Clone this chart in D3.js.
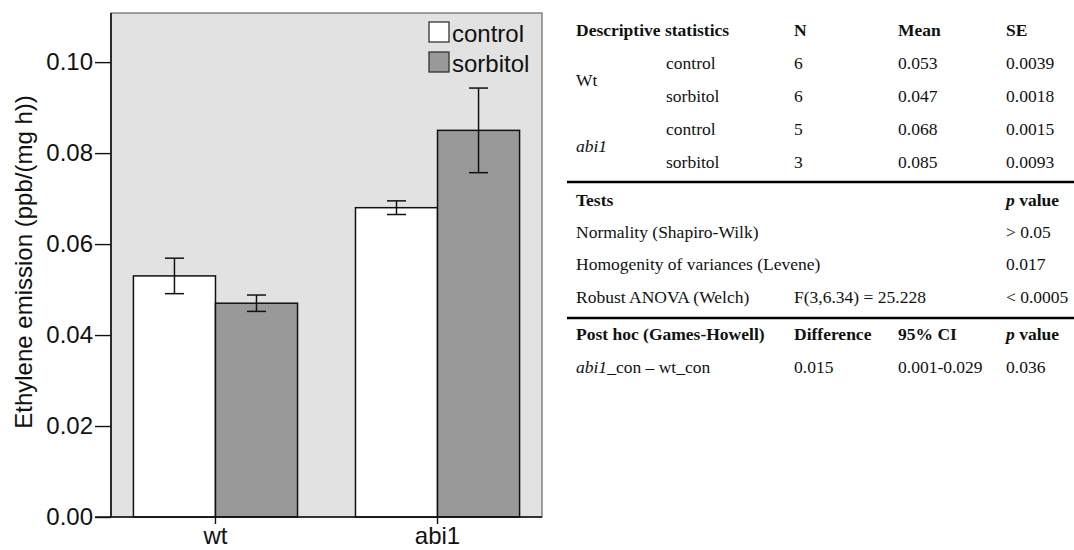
<!DOCTYPE html>
<html>
<head>
<meta charset="utf-8">
<script src="https://cdn.jsdelivr.net/npm/d3@7"></script>
<style>
  body { margin: 0; background: #fff; }
  svg { display: block; }
</style>
</head>
<body>
<div id="chart"></div>
<script>
// chart data
var genotypes = ["wt", "abi1"];
var treatments = ["control", "sorbitol"];
var meanValues = [[0.053, 0.047], [0.068, 0.085]];
var seValues = [[0.0039, 0.0018], [0.0015, 0.0093]];
var yTicks = [0, 0.02, 0.04, 0.06, 0.08, 0.10];

// table data
var descHeader = ["Descriptive statistics", "N", "Mean", "SE"];
var descGroups = ["Wt", "abi1"];
var descTreatments = ["control", "sorbitol", "control", "sorbitol"];
var descN = ["6", "6", "5", "3"];
var descMean = ["0.053", "0.047", "0.068", "0.085"];
var descSE = ["0.0039", "0.0018", "0.0015", "0.0093"];
var testNames = ["Normality (Shapiro-Wilk)", "Homogenity of variances (Levene)", "Robust ANOVA (Welch)"];
var testStats = ["", "", "F(3,6.34) = 25.228"];
var testP = ["> 0.05", "0.017", "< 0.0005"];
var postHeader = ["Post hoc (Games-Howell)", "Difference", "95% CI"];
var postRow = ["0.015", "0.001-0.029", "0.036"];

var W = 1074, H = 550;
var svg = d3.select("#chart").append("svg").attr("width", W).attr("height", H);

var plot = { left: 111, right: 542, top: 13, bottom: 517 };
var sans = "'Liberation Sans', Arial, Helvetica, sans-serif";
var serif = "'Liberation Serif', 'Times New Roman', serif";

var y = d3.scaleLinear().domain([0, 0.1108]).range([plot.bottom, plot.top]);
var x0 = d3.scaleBand().domain(genotypes).range([plot.left, plot.right])
  .paddingInner(0.261).paddingOuter(0.101);
var x1 = d3.scaleBand().domain(treatments).range([0, x0.bandwidth()]).padding(0);
var fill = d3.scaleOrdinal().domain(treatments).range(["#ffffff", "#999999"]);

// plot background
svg.append("rect")
  .attr("x", plot.left).attr("y", plot.top)
  .attr("width", plot.right - plot.left).attr("height", plot.bottom - plot.top)
  .style("fill", "#e2e2e2")
  .style("stroke", "#666")
  .style("stroke-width", 1.2);

// bars
var groups = svg.selectAll("g.grp").data(genotypes).enter()
  .append("g").attr("class", "grp")
  .attr("transform", function(d) { return `translate(${x0(d)},0)`; });

function groupData(d, i) {
  return treatments.map(function(t, j) {
    return { t: t, v: meanValues[i][j], se: seValues[i][j] };
  });
}

groups.selectAll("rect.bar")
  .data(groupData)
  .enter().append("rect").attr("class", "bar")
  .attr("x", function(d) { return x1(d.t); })
  .attr("y", function(d) { return y(d.v); })
  .attr("width", x1.bandwidth())
  .attr("height", function(d) { return y(0) - y(d.v); })
  .style("fill", function(d) { return fill(d.t); })
  .style("stroke", "#111")
  .style("stroke-width", 1.5);

// error bars (mean +/- SE)
var err = groups.selectAll("g.err")
  .data(groupData)
  .enter().append("g").attr("class", "err")
  .attr("transform", function(d) { return `translate(${x1(d.t) + x1.bandwidth() / 2},0)`; })
  .style("stroke", "#111").style("stroke-width", 1.5);
err.append("line")
  .attr("y1", function(d) { return y(d.v + d.se); })
  .attr("y2", function(d) { return y(d.v - d.se); });
err.append("line").attr("x1", -9.5).attr("x2", 9.5)
  .attr("y1", function(d) { return y(d.v + d.se); })
  .attr("y2", function(d) { return y(d.v + d.se); });
err.append("line").attr("x1", -9.5).attr("x2", 9.5)
  .attr("y1", function(d) { return y(d.v - d.se); })
  .attr("y2", function(d) { return y(d.v - d.se); });

// axes
var yAxis = d3.axisLeft(y).tickValues(yTicks).tickFormat(d3.format(".2f"))
  .tickSizeInner(16).tickSizeOuter(0).tickPadding(2);
var gy = svg.append("g").attr("transform", `translate(${plot.left},0)`).call(yAxis);
gy.select(".domain").attr("d", `M0,${plot.top}V${plot.bottom}`)
  .style("stroke", "#111").style("stroke-width", 1.6);
gy.selectAll(".tick line").style("stroke", "#111").style("stroke-width", 1.4);
gy.selectAll(".tick text").style("font-family", sans).style("font-size", "24px")
  .style("fill", "#111");

var xAxis = d3.axisBottom(x0).tickSizeInner(7).tickSizeOuter(0).tickPadding(3);
var gx = svg.append("g").attr("transform", `translate(0,${plot.bottom})`).call(xAxis);
gx.select(".domain").attr("d", `M${plot.left - 16},0H${plot.right}`)
  .style("stroke", "#111").style("stroke-width", 1.6);
gx.selectAll(".tick line").style("stroke", "#111").style("stroke-width", 1.4);
gx.selectAll(".tick text").style("font-family", sans).style("font-size", "24px")
  .style("fill", "#111");

// y title
svg.append("text")
  .attr("transform", `translate(32,${(plot.top + plot.bottom) / 2 - 3}) rotate(-90)`)
  .attr("text-anchor", "middle")
  .style("font-family", sans).style("font-size", "24px").style("fill", "#111")
  .text("Ethylene emission (ppb/(mg h))");

// legend
var legend = svg.append("g").attr("transform", "translate(429,22)");
var li = legend.selectAll("g").data(treatments).enter().append("g")
  .attr("transform", function(d, i) { return `translate(0,${i * 30})`; });
li.append("rect").attr("width", 20).attr("height", 20)
  .style("fill", function(d) { return fill(d); })
  .style("stroke", "#333").style("stroke-width", 1.3);
li.append("text").attr("x", 23).attr("y", 20)
  .style("font-family", sans).style("font-size", "24px").style("fill", "#111")
  .text(function(d) { return d; });

// table
var tbl = svg.append("g")
  .style("font-family", serif).style("font-size", "17.5px").style("fill", "#111");
var colX = [576, 666, 794, 898, 1006];

function cell(x, yy, txt, bold, italic) {
  var t = tbl.append("text").attr("x", x).attr("y", yy).text(txt);
  if (bold) t.style("font-weight", "bold");
  if (italic) t.style("font-style", "italic");
  return t;
}

cell(colX[0], 36, descHeader[0], true);
cell(colX[2], 36, descHeader[1], true);
cell(colX[3], 36, descHeader[2], true);
cell(colX[4], 36, descHeader[3], true);

var rowY = [69, 102, 135, 168];
descTreatments.forEach(function(t, i) {
  cell(colX[1], rowY[i], t);
  cell(colX[2], rowY[i], descN[i]);
  cell(colX[3], rowY[i], descMean[i]);
  cell(colX[4], rowY[i], descSE[i]);
});
cell(colX[0], 86, descGroups[0]);
cell(colX[0], 152, descGroups[1], false, true);

tbl.append("line").attr("x1", 567).attr("x2", 1074).attr("y1", 182).attr("y2", 182)
  .style("stroke", "#000").style("stroke-width", 2.5);

cell(colX[0], 206, "Tests", true);
var pv = cell(colX[4], 206, "");
pv.append("tspan").style("font-style", "italic").style("font-weight", "bold").text("p");
pv.append("tspan").style("font-weight", "bold").text(" value");

var testY = [238, 270, 303];
testNames.forEach(function(t, i) {
  cell(colX[0], testY[i], t);
  if (testStats[i]) cell(colX[2], testY[i], testStats[i]);
  cell(colX[4], testY[i], testP[i]);
});

tbl.append("line").attr("x1", 567).attr("x2", 1074).attr("y1", 318).attr("y2", 318)
  .style("stroke", "#000").style("stroke-width", 2.5);

cell(colX[0], 340, postHeader[0], true);
cell(colX[2], 340, postHeader[1], true);
cell(colX[3], 340, postHeader[2], true);
var pv2 = cell(colX[4], 340, "");
pv2.append("tspan").style("font-style", "italic").style("font-weight", "bold").text("p");
pv2.append("tspan").style("font-weight", "bold").text(" value");

var cmp = cell(colX[0], 373, "");
cmp.append("tspan").style("font-style", "italic").text("abi1");
cmp.append("tspan").text("_con \u2013 wt_con");
cell(colX[2], 373, postRow[0]);
cell(colX[3], 373, postRow[1]);
cell(colX[4], 373, postRow[2]);
</script>
</body>
</html>
